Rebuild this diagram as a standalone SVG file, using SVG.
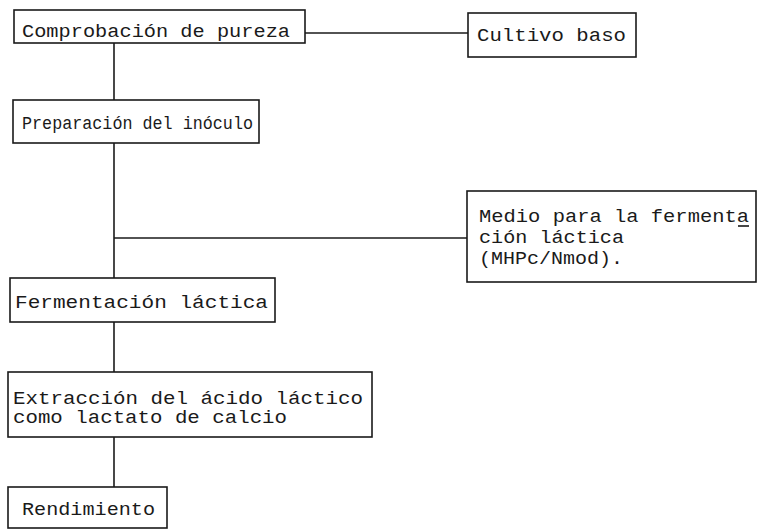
<svg xmlns="http://www.w3.org/2000/svg" width="758" height="531" viewBox="0 0 758 531">
<style>
.box{fill:#fff;stroke:#1a1a1a;stroke-width:1.6}
.lbl{font-family:"Liberation Mono","DejaVu Sans Mono",monospace;font-size:18.5px;fill:#1a1a1a}
.con{fill:none;stroke:#1a1a1a;stroke-width:1.6}
</style>
<rect width="758" height="531" fill="#fff"/>
<g id="connectors">
<line class="con" x1="305" y1="33" x2="468" y2="33"/>
<line class="con" x1="114" y1="43" x2="114" y2="100"/>
<line class="con" x1="114" y1="143" x2="114" y2="278"/>
<line class="con" x1="114" y1="238" x2="467" y2="238"/>
<line class="con" x1="114" y1="322" x2="114" y2="372"/>
<line class="con" x1="114" y1="437" x2="114" y2="487"/>
</g>
<g id="n1"><rect class="box" x="14" y="10" width="291" height="33"/><text class="lbl" x="22" y="37" textLength="268" lengthAdjust="spacingAndGlyphs">Comprobación de pureza</text></g>
<g id="n2"><rect class="box" x="468" y="13" width="168" height="44"/><text class="lbl" x="477" y="41" textLength="149" lengthAdjust="spacingAndGlyphs">Cultivo baso</text></g>
<g id="n3"><rect class="box" x="13" y="100" width="246" height="43"/><text class="lbl" x="22" y="129" textLength="231" lengthAdjust="spacingAndGlyphs">Preparación del inóculo</text></g>
<g id="n4"><rect class="box" x="467" y="191" width="289" height="91"/><text class="lbl" x="479" y="222" textLength="270" lengthAdjust="spacingAndGlyphs">Medio para la fermenta</text><text class="lbl" x="479" y="243" textLength="145" lengthAdjust="spacingAndGlyphs">ción láctica</text><text class="lbl" x="479" y="264" textLength="144" lengthAdjust="spacingAndGlyphs">(MHPc/Nmod).</text><line class="con" x1="738" y1="226" x2="749" y2="226" stroke-width="1.2"/></g>
<g id="n5"><rect class="box" x="10" y="278" width="265" height="44"/><text class="lbl" x="15" y="308" textLength="253" lengthAdjust="spacingAndGlyphs">Fermentación láctica</text></g>
<g id="n6"><rect class="box" x="8" y="372" width="364" height="65"/><text class="lbl" x="13" y="404" textLength="350" lengthAdjust="spacingAndGlyphs">Extracción del ácido láctico</text><text class="lbl" x="13" y="423" textLength="274" lengthAdjust="spacingAndGlyphs">como lactato de calcio</text></g>
<g id="n7"><rect class="box" x="8" y="487" width="159" height="41"/><text class="lbl" x="22" y="515" textLength="133" lengthAdjust="spacingAndGlyphs">Rendimiento</text></g>
</svg>
